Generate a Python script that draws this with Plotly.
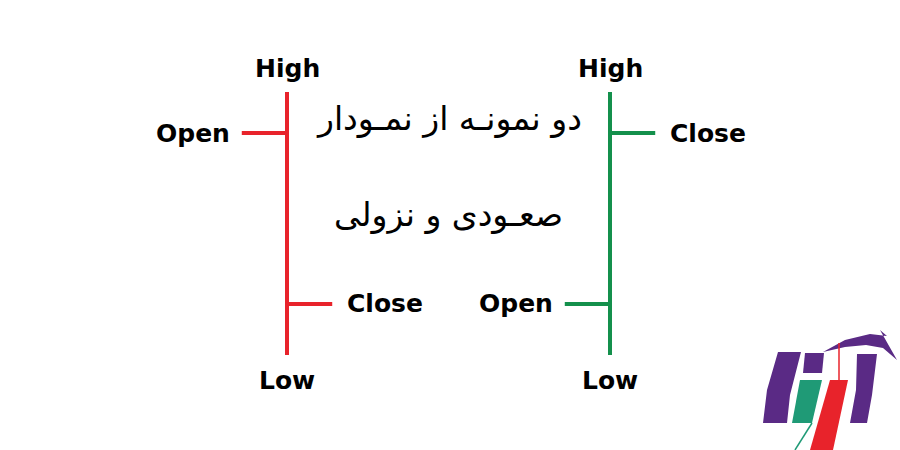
import plotly.graph_objects as go

# ---- data ----
bars = [0, 1]
open_vals = [84.4, 19.4]
high_vals = [100, 100]
low_vals = [0, 0]
close_vals = [19.4, 84.4]
title_lines = ["دو نمونـه از نمـودار", "صعـودی و نزولی"]

RED = "#e8232b"
GREEN = "#14904c"
LBL = dict(family="DejaVu Sans", size=25, color="#000000")

fig = go.Figure()
fig.add_trace(go.Ohlc(
    x=bars, open=open_vals, high=high_vals, low=low_vals, close=close_vals,
    increasing=dict(line=dict(color=GREEN, width=4)),
    decreasing=dict(line=dict(color=RED, width=4)),
    tickwidth=0.14, showlegend=False, hoverinfo="skip",
))

px_per_x = 323.0
px_per_y = 2.63
x0_px, y0_px = 287.0, 355.0

ann = []
tw = 0.14
for i, x in enumerate(bars):
    o, h, l, c = open_vals[i], high_vals[i], low_vals[i], close_vals[i]
    ann.append(dict(x=x, y=h, text="<b>High</b>", yshift=24, showarrow=False, font=LBL))
    ann.append(dict(x=x, y=l, text="<b>Low</b>", yshift=-25, showarrow=False, font=LBL))
    ann.append(dict(x=x - tw, y=o, text="<b>Open</b>", xanchor="right", xshift=-10, showarrow=False, font=LBL))
    ann.append(dict(x=x + tw, y=c, text="<b>Close</b>", xanchor="left", xshift=13, showarrow=False, font=LBL))

ann.append(dict(x=0.5, y=90, text=title_lines[0], showarrow=False,
                font=dict(family="DejaVu Sans", size=33, color="#000000")))
ann.append(dict(x=0.5, y=53.5, text=title_lines[1], showarrow=False,
                font=dict(family="DejaVu Sans", size=33, color="#000000")))

def P(pts):
    return "M " + " L ".join(f"{x},{y}" for x, y in pts) + " Z"

def to_paper(pts):
    return [(x / 900.0, 1 - y / 450.0) for x, y in pts]

PURPLE = "#5a2a85"
logo = [
    (P(to_paper([(778, 352), (801, 352), (790, 395), (787, 423), (763, 423), (767, 390)])), PURPLE),
    (P(to_paper([(805, 353), (824, 353), (822, 373), (803, 373)])), PURPLE),
    (P(to_paper([(800, 380), (822, 380), (812, 423), (792, 423)])), "#1f9a76"),
    (P(to_paper([(830, 380), (848, 380), (833, 450), (810, 450)])), RED),
    (P(to_paper([(857, 354), (877, 354), (872, 395), (867, 423), (850, 423), (856, 390)])), PURPLE),
    (P(to_paper([(823, 352), (845, 340), (870, 334), (887, 336), (880, 330), (897, 360), (883, 348), (866, 345), (845, 347)])), PURPLE),
]
shapes = [dict(type="path", xref="paper", yref="paper", path=p, fillcolor=c,
               line=dict(width=0), layer="above") for p, c in logo]
shapes.append(dict(type="line", xref="paper", yref="paper",
                   x0=812/900, y0=1-423/450, x1=795/900, y1=0, line=dict(color="#1f9a76", width=1.5)))
shapes.append(dict(type="line", xref="paper", yref="paper",
                   x0=839/900, y0=1-343/450, x1=839/900, y1=1-380/450, line=dict(color=RED, width=1.5)))

fig.update_layout(
    width=900, height=450,
    margin=dict(l=0, r=0, t=0, b=0),
    paper_bgcolor="white", plot_bgcolor="white",
    xaxis=dict(range=[-x0_px / px_per_x, (900 - x0_px) / px_per_x], visible=False,
               rangeslider=dict(visible=False), fixedrange=True),
    yaxis=dict(range=[-(450 - y0_px) / px_per_y, y0_px / px_per_y], visible=False, fixedrange=True),
    annotations=ann, shapes=shapes,
)
fig.write_html("out.html", config=dict(displayModeBar=False),
               post_script="document.body.style.margin='0';document.body.style.overflow='hidden';")
